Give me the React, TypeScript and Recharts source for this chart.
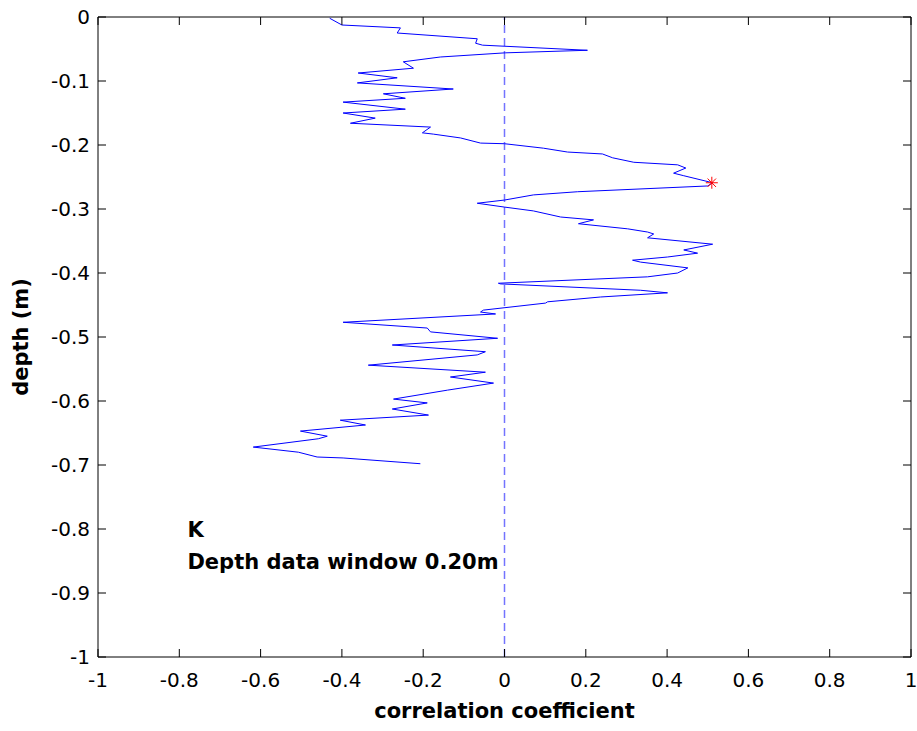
import { ScatterChart, Scatter, XAxis, YAxis, ReferenceLine, ReferenceArea, ReferenceDot } from 'recharts'

// correlation coefficient along the trace (top to bottom)
const corrValues = [
  -0.43, -0.40, -0.256, -0.264, -0.067, -0.071, -0.054, 0.204, 0.002, -0.158,
  -0.249, -0.224, -0.36, -0.264, -0.362, -0.126, -0.298, -0.244, -0.397, -0.244,
  -0.397, -0.318, -0.379, -0.182, -0.202, -0.175, -0.108, -0.059, 0.0, 0.096,
  0.155, 0.241, 0.266, 0.318, 0.426, 0.446, 0.416, 0.441, 0.512, 0.5,
  0.18, 0.071, 0.0, -0.067, 0.0, 0.071, 0.138, 0.219, 0.182, 0.303,
  0.352, 0.367, 0.352, 0.512, 0.441, 0.475, 0.401, 0.315, 0.335, 0.451,
  0.426, 0.352, -0.015, -0.01, 0.335, 0.401, 0.236, 0.106, 0.101, -0.052,
  -0.059, -0.022, -0.397, -0.19, -0.182, -0.017, -0.276, -0.047, -0.067, -0.335,
  -0.047, -0.133, -0.027, -0.14, -0.273, -0.19, -0.276, -0.187, -0.404, -0.342,
  -0.502, -0.436, -0.458, -0.618, -0.507, -0.461, -0.397, -0.207,
]

// matching depths (m)
const depthValues = [
  -0.002, -0.0125, -0.017, -0.025, -0.034, -0.041, -0.044, -0.052, -0.056, -0.0625,
  -0.07, -0.08, -0.0875, -0.095, -0.103, -0.1125, -0.12, -0.127, -0.133, -0.144,
  -0.15, -0.158, -0.166, -0.172, -0.181, -0.183, -0.189, -0.197, -0.198, -0.205,
  -0.211, -0.214, -0.22, -0.227, -0.231, -0.236, -0.244, -0.248, -0.259, -0.264,
  -0.273, -0.278, -0.286, -0.291, -0.297, -0.303, -0.3125, -0.317, -0.323, -0.331,
  -0.336, -0.339, -0.345, -0.355, -0.364, -0.369, -0.375, -0.38, -0.383, -0.392,
  -0.4, -0.406, -0.416, -0.417, -0.427, -0.431, -0.4375, -0.445, -0.447, -0.458,
  -0.461, -0.464, -0.477, -0.486, -0.492, -0.502, -0.5125, -0.523, -0.528, -0.544,
  -0.555, -0.5625, -0.572, -0.583, -0.597, -0.603, -0.6125, -0.622, -0.63, -0.6375,
  -0.647, -0.655, -0.659, -0.672, -0.68, -0.6875, -0.689, -0.698,
]

// best match marker
const peakCorr = [0.51]
const peakDepth = [-0.259]

const xTicks = [-1, -0.8, -0.6, -0.4, -0.2, 0, 0.2, 0.4, 0.6, 0.8, 1]
const yTicks = [0, -0.1, -0.2, -0.3, -0.4, -0.5, -0.6, -0.7, -0.8, -0.9, -1]

const annotationLines = ['K', 'Depth data window 0.20m']

const traceData = corrValues.map((c, i) => ({ x: c, d: depthValues[i] }))
const peakData = peakCorr.map((c, i) => ({ x: c, d: peakDepth[i] }))

const W = 917
const H = 731
const PLOT_LEFT = 98
const PLOT_RIGHT = 911
const PLOT_TOP = 17
const PLOT_BOTTOM = 657
const TICK_LEN = 8
const FONT = '"DejaVu Sans", Arial, sans-serif'

const XTick = ({ x, payload }: any) => (
  <g>
    <line x1={x} y1={PLOT_BOTTOM} x2={x} y2={PLOT_BOTTOM - TICK_LEN} stroke="#000" />
    <line x1={x} y1={PLOT_TOP} x2={x} y2={PLOT_TOP + TICK_LEN} stroke="#000" />
    <text x={x} y={687} textAnchor="middle" fontFamily={FONT} fontSize={20} fill="#000">
      {String(payload.value)}
    </text>
  </g>
)

const YTick = ({ y, payload }: any) => (
  <g>
    <line x1={PLOT_LEFT} y1={y} x2={PLOT_LEFT + TICK_LEN} y2={y} stroke="#000" />
    <line x1={PLOT_RIGHT} y1={y} x2={PLOT_RIGHT - TICK_LEN} y2={y} stroke="#000" />
    <text x={90} y={y + 7} textAnchor="end" fontFamily={FONT} fontSize={20} fill="#000">
      {String(payload.value)}
    </text>
  </g>
)

const XLabel = ({ viewBox }: any) => (
  <text
    x={viewBox.x + viewBox.width / 2}
    y={718}
    textAnchor="middle"
    fontFamily={FONT}
    fontWeight="bold"
    fontSize={21}
    fill="#000"
  >
    correlation coefficient
  </text>
)

const YLabel = ({ viewBox }: any) => {
  const cy = viewBox.y + viewBox.height / 2
  return (
    <text
      x={21}
      y={cy}
      transform={`rotate(-90, 21, ${cy})`}
      textAnchor="middle"
      dominantBaseline="central"
      fontFamily={FONT}
      fontWeight="bold"
      fontSize={21}
      fill="#000"
    >
      depth (m)
    </text>
  )
}

const Annotation = ({ viewBox }: any) => {
  const x = viewBox.x + viewBox.width / 2
  const y = viewBox.y + viewBox.height / 2
  return (
    <g>
      {annotationLines.map((t, i) => (
        <text key={i} x={x} y={y + 8 + i * 32} fontFamily={FONT} fontWeight="bold" fontSize={21} fill="#000">
          {t}
        </text>
      ))}
    </g>
  )
}

const Star = ({ cx, cy }: any) => {
  const r = 6
  const q = r * 0.7
  return (
    <g stroke="#ff0000" strokeWidth={1}>
      <line x1={cx - r} y1={cy} x2={cx + r} y2={cy} />
      <line x1={cx} y1={cy - r} x2={cx} y2={cy + r} />
      <line x1={cx - q} y1={cy - q} x2={cx + q} y2={cy + q} />
      <line x1={cx - q} y1={cy + q} x2={cx + q} y2={cy - q} />
    </g>
  )
}

const NoDot = () => <g />

export default function App() {
  return (
    <div style={{ position: 'absolute', left: 0, top: 0, width: W, height: H, background: '#fff' }}>
      <ScatterChart
        width={W}
        height={H}
        margin={{ top: PLOT_TOP, right: W - PLOT_RIGHT, bottom: 0, left: 0 }}
      >
        <XAxis
          type="number"
          dataKey="x"
          domain={[-1, 1]}
          ticks={xTicks}
          interval={0}
          height={H - PLOT_BOTTOM}
          axisLine={false}
          tickLine={false}
          tick={<XTick />}
          label={<XLabel />}
        />
        <YAxis
          type="number"
          dataKey="d"
          domain={[-1, 0]}
          ticks={yTicks}
          interval={0}
          width={PLOT_LEFT}
          axisLine={false}
          tickLine={false}
          tick={<YTick />}
          label={<YLabel />}
        />
        <ReferenceArea x1={-1} x2={1} y1={-1} y2={0} fill="none" stroke="#000" strokeWidth={1} />
        <ReferenceLine x={0} stroke="#0000ff" strokeOpacity={0.55} strokeWidth={1.5} strokeDasharray="8 5" />
        <Scatter
          data={traceData}
          line={{ stroke: '#0000ff', strokeWidth: 1 }}
          lineType="joint"
          shape={<NoDot />}
          isAnimationActive={false}
        />
        <Scatter data={peakData} shape={<Star />} isAnimationActive={false} />
        <ReferenceDot x={-0.78} y={-0.8} r={1} fill="none" stroke="none" label={<Annotation />} />
      </ScatterChart>
    </div>
  )
}
